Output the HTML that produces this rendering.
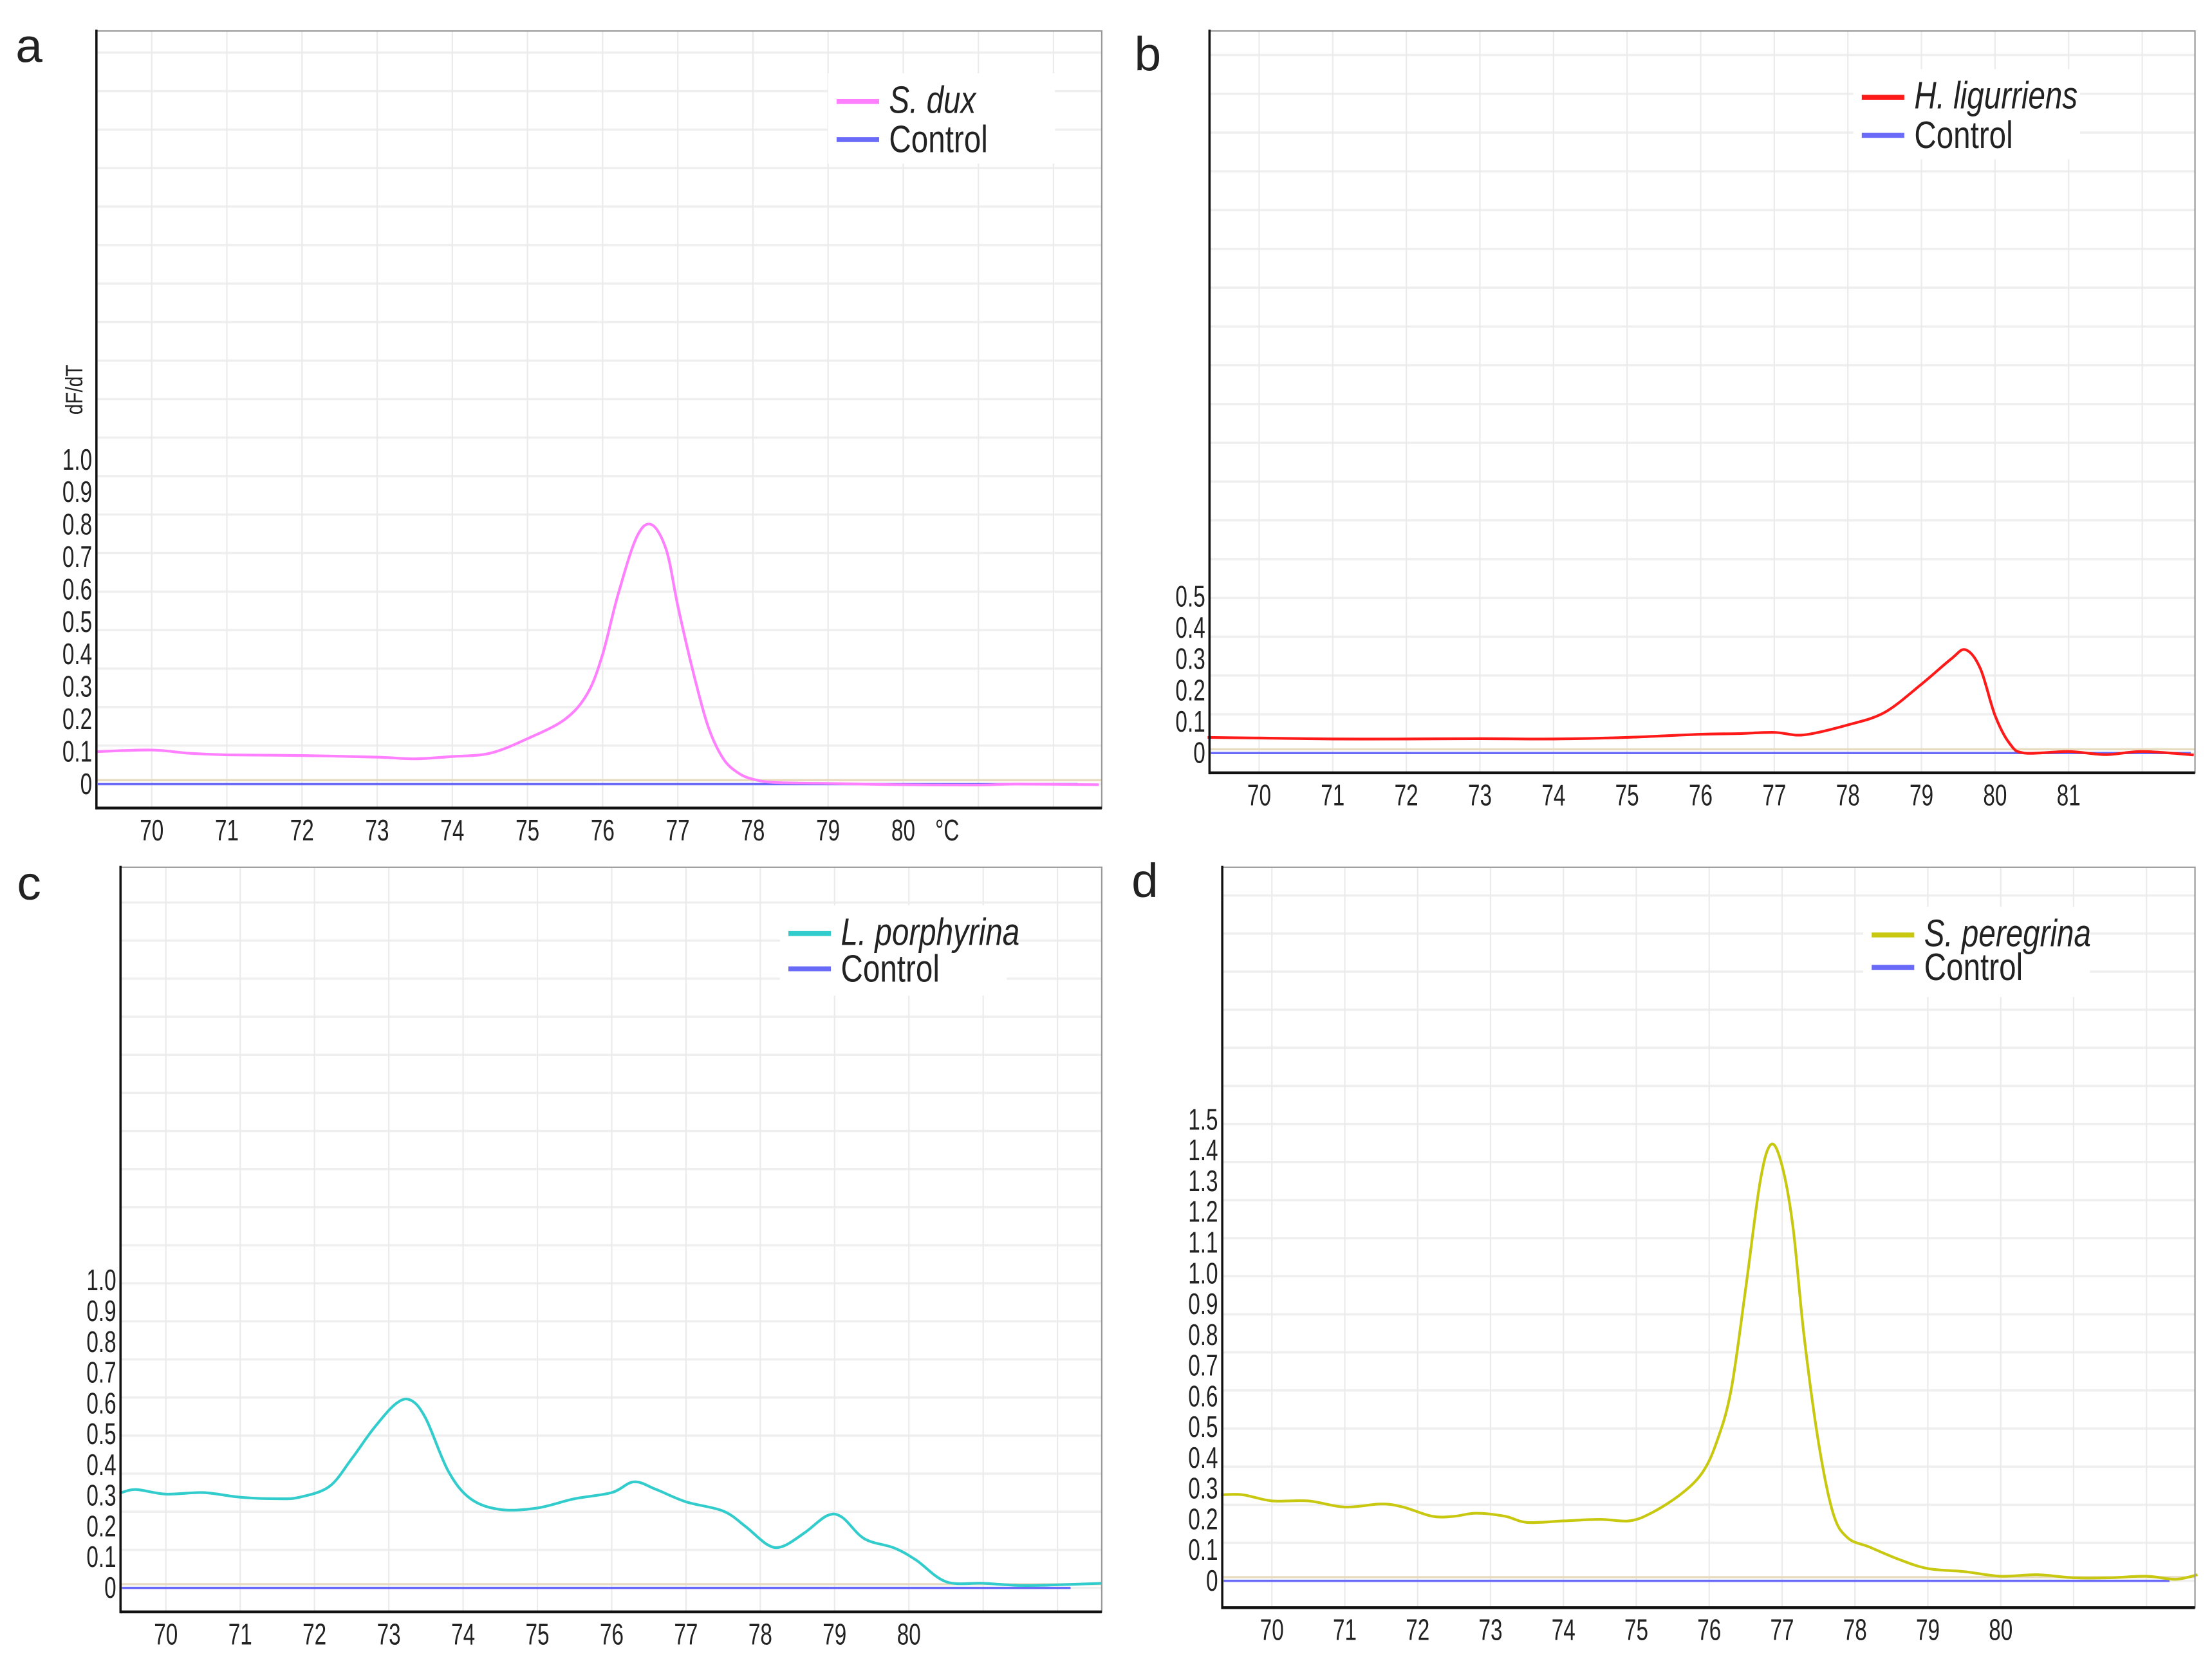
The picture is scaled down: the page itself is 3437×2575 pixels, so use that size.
<!DOCTYPE html>
<html><head><meta charset="utf-8"><style>
html,body{margin:0;padding:0;background:#fff}
svg{display:block}
text{font-family:"Liberation Sans",sans-serif;fill:#222}
</style></head>
<body>
<svg id="fig" xmlns="http://www.w3.org/2000/svg" width="3437" height="2575" viewBox="0 0 1560 1175" preserveAspectRatio="none"></svg>
<script>
// Panel a data (S. dux)
const aTemps=[69.26,70,70.5,71,72,73,73.5,74,74.5,75,75.5,75.8,76,76.2,76.45,76.65,76.85,77,77.2,77.4,77.6,77.8,78,78.3,79,80,81,81.5,82.6];
const aVals=[0.10,0.105,0.095,0.09,0.088,0.083,0.078,0.085,0.095,0.14,0.2,0.28,0.4,0.58,0.76,0.8,0.72,0.55,0.35,0.18,0.08,0.035,0.015,0.005,0.002,-0.002,-0.003,0,-0.002];
const aYTicks=[0,0.1,0.2,0.3,0.4,0.5,0.6,0.7,0.8,0.9,1.0];
const aYTickLabels=["0","0.1","0.2","0.3","0.4","0.5","0.6","0.7","0.8","0.9","1.0"];
const aXTicks=[70,71,72,73,74,75,76,77,78,79,80];
// Panel b data (H. ligurriens)
const bTemps=[69.3,70,71,72,73,74,75,76,76.5,77,77.4,78,78.5,79,79.4,79.6,79.8,80,80.2,80.4,81,81.5,82,82.7];
const bVals=[0.05,0.048,0.045,0.045,0.046,0.045,0.05,0.06,0.062,0.066,0.058,0.09,0.13,0.22,0.3,0.33,0.27,0.12,0.03,0.0,0.005,-0.005,0.005,-0.006];
const bYTicks=[0,0.1,0.2,0.3,0.4,0.5];
const bYTickLabels=["0","0.1","0.2","0.3","0.4","0.5"];
const bXTicks=[70,71,72,73,74,75,76,77,78,79,80,81];
// Panel c data (L. porphyrina)
const cTemps=[69.4,69.6,70,70.5,71,71.5,71.8,72.2,72.5,72.8,73.1,73.3,73.5,73.8,74.1,74.5,75,75.5,76,76.3,76.6,77,77.5,77.8,78.1,78.3,78.6,78.9,79.1,79.4,79.8,80.1,80.5,81,81.5,82,82.6];
const cVals=[0.31,0.32,0.305,0.31,0.295,0.29,0.295,0.33,0.42,0.52,0.6,0.61,0.55,0.38,0.29,0.255,0.26,0.29,0.31,0.345,0.32,0.28,0.25,0.2,0.14,0.135,0.18,0.235,0.23,0.16,0.13,0.09,0.02,0.015,0.008,0.01,0.015];
const cYTicks=[0,0.1,0.2,0.3,0.4,0.5,0.6,0.7,0.8,0.9,1.0];
const cYTickLabels=["0","0.1","0.2","0.3","0.4","0.5","0.6","0.7","0.8","0.9","1.0"];
const cXTicks=[70,71,72,73,74,75,76,77,78,79,80];
// Panel d data (S. peregrina)
const dTemps=[69.3,69.6,70,70.5,71,71.5,71.8,72.2,72.5,72.8,73.2,73.5,74,74.5,74.9,75.2,75.6,75.9,76.1,76.3,76.5,76.7,76.85,77,77.15,77.3,77.5,77.7,77.9,78.2,78.6,79,79.5,80,80.5,81,81.5,82,82.4,82.7];
const dVals=[0.28,0.28,0.26,0.26,0.24,0.25,0.24,0.21,0.21,0.22,0.21,0.19,0.195,0.2,0.195,0.22,0.28,0.35,0.45,0.62,0.95,1.3,1.42,1.35,1.15,0.8,0.45,0.22,0.14,0.11,0.07,0.04,0.03,0.015,0.02,0.01,0.01,0.015,0.005,0.02];
const dYTicks=[0,0.1,0.2,0.3,0.4,0.5,0.6,0.7,0.8,0.9,1.0,1.1,1.2,1.3,1.4,1.5];
const dYTickLabels=["0","0.1","0.2","0.3","0.4","0.5","0.6","0.7","0.8","0.9","1.0","1.1","1.2","1.3","1.4","1.5"];
const dXTicks=[70,71,72,73,74,75,76,77,78,79,80];

const NS="http://www.w3.org/2000/svg";
const svg=document.getElementById('fig');
function mk(tag,attrs,parent){const e=document.createElementNS(NS,tag);for(const k in attrs)e.setAttribute(k,attrs[k]);(parent||svg).appendChild(e);return e;}
function txt(x,y,s,size,parent,anchor,italic,sx){
  const t=mk('text',{transform:`translate(${x},${y}) scale(${sx||0.72},1)`,'font-size':size,'text-anchor':anchor||'start'},parent);
  if(italic)t.setAttribute('font-style','italic');
  t.textContent=s;return t;
}
function smooth(pts){
  let d=`M${pts[0][0]},${pts[0][1]}`;
  for(let i=0;i<pts.length-1;i++){
    const p0=pts[Math.max(0,i-1)],p1=pts[i],p2=pts[i+1],p3=pts[Math.min(pts.length-1,i+2)];
    const c1=[p1[0]+(p2[0]-p0[0])/6,p1[1]+(p2[1]-p0[1])/6];
    const c2=[p2[0]-(p3[0]-p1[0])/6,p2[1]-(p3[1]-p1[1])/6];
    d+=` C${c1[0].toFixed(2)},${c1[1].toFixed(2)} ${c2[0].toFixed(2)},${c2[1].toFixed(2)} ${p2[0].toFixed(2)},${p2[1].toFixed(2)}`;
  }
  return d;
}
function panel(o){
  const g=mk('g',{});
  
  
  const X=t=>o.x70+(t-70)*o.dx;
  const Y=v=>o.y0-v*o.dy*10;
  mk('rect',{x:o.L,y:o.T,width:o.R-o.L,height:o.B-o.T,fill:'#fff'},g);
  const gg=mk('g',{},g);
  
  
  const step=o.gridStep;
  for(let y=o.y0+step*2;y>o.T+2;y-=step){
    if(y>=o.B)continue;
    mk('line',{x1:o.L,x2:o.R,y1:y,y2:y,stroke:'#efefef','stroke-width':1.6},gg);
  }
  for(let t=69;t<=83;t++){
    const x=X(t);if(x<=o.L||x>=o.R)continue;
    mk('line',{x1:x,x2:x,y1:o.T,y2:o.B,stroke:'#ebebeb','stroke-width':1},gg);
  }
  const tan=mk('line',{x1:o.L,x2:o.R,y1:Y(0.012),y2:Y(0.012),stroke:'#e8dcc0','stroke-width':1.5},g);
  
  
  const ctl=mk('line',{x1:o.L+1,x2:o.ctrlEnd,y1:Y(0),y2:Y(0),stroke:'#6a6af8','stroke-width':1.6},g);
  
  
  const pts=o.temps.map((t,i)=>[X(t),Y(o.vals[i])]);
  const p=mk('path',{d:smooth(pts),fill:'none',stroke:o.color,'stroke-width':1.9,'stroke-linejoin':'round'},g);
  
  
  mk('rect',{x:o.L,y:o.T,width:o.R-o.L,height:o.B-o.T,fill:'none',stroke:'#999','stroke-width':1},g);
  mk('line',{x1:o.L,x2:o.L,y1:o.T-1,y2:o.B+1,stroke:'#111','stroke-width':1.6},g);
  mk('line',{x1:o.L,x2:o.R,y1:o.B,y2:o.B,stroke:'#111','stroke-width':2},g);
  o.yTicks.forEach((v,i)=>{
    const t=txt(o.L-3,Y(v)+7,o.yLabels[i],21,g,'end');
    
    
  });
  o.xTicks.forEach(v=>{
    const t=txt(X(v),o.B+23,String(v),21,g,'middle');
    
    
  });
  const lg=mk('g',{},g);
  
  
  mk('rect',{x:o.lx-6,y:o.ly-20,width:160,height:64,fill:'#fff'},lg);
  mk('line',{x1:o.lx,x2:o.lx+30,y1:o.ly,y2:o.ly,stroke:o.color,'stroke-width':3.5},lg);
  mk('line',{x1:o.lx,x2:o.lx+30,y1:o.ly+o.lgap,y2:o.ly+o.lgap,stroke:'#6a6af8','stroke-width':3.5},lg);
  const s1=txt(o.lx+37,o.ly+8,o.name,27,lg,'start',true,0.8);
  
  
  const s2=txt(o.lx+37,o.ly+o.lgap+9,'Control',27,lg,'start',false,0.8);
  
  
  const pl=mk('text',{x:o.px,y:o.py,'font-size':34},g);
  pl.textContent=o.id;
  
  
  return {g,X,Y};
}
const a=panel({id:'a',L:68,T:22,R:777,B:573,x70:107,dx:53,y0:556,dy:23,gridStep:27.3,temps:aTemps,vals:aVals,color:'#ff80ff',yTicks:aYTicks,yLabels:aYTickLabels,xTicks:aXTicks,ctrlEnd:760,lx:590,ly:72,lgap:27,name:'S. dux',px:11,py:44});
const deg=txt(668,596,'°C',21,a.g,'middle');


const yt=mk('text',{transform:'translate(58,294) rotate(-90) scale(0.8,1)','font-size':17},a.g);
yt.textContent='dF/dT';


panel({id:'b',L:853,T:22,R:1548,B:548,x70:888,dx:51.9,y0:534,dy:22.2,gridStep:27.5,temps:bTemps,vals:bVals,color:'#ff1a1a',yTicks:bYTicks,yLabels:bYTickLabels,xTicks:bXTicks,ctrlEnd:1545,lx:1313,ly:69,lgap:27,name:'H. ligurriens',px:800,py:50});
panel({id:'c',L:85,T:615,R:777,B:1143,x70:117,dx:52.4,y0:1126,dy:21.8,gridStep:27,temps:cTemps,vals:cVals,color:'#33cccc',yTicks:cYTicks,yLabels:cYTickLabels,xTicks:cXTicks,ctrlEnd:755,lx:556,ly:662,lgap:25,name:'L. porphyrina',px:12,py:638});
panel({id:'d',L:862,T:615,R:1548,B:1140,x70:897,dx:51.4,y0:1121,dy:21.8,gridStep:27,temps:dTemps,vals:dVals,color:'#c8c810',yTicks:dYTicks,yLabels:dYTickLabels,xTicks:dXTicks,ctrlEnd:1530,lx:1320,ly:663,lgap:23,name:'S. peregrina',px:798,py:636});
</script>
</body></html>
